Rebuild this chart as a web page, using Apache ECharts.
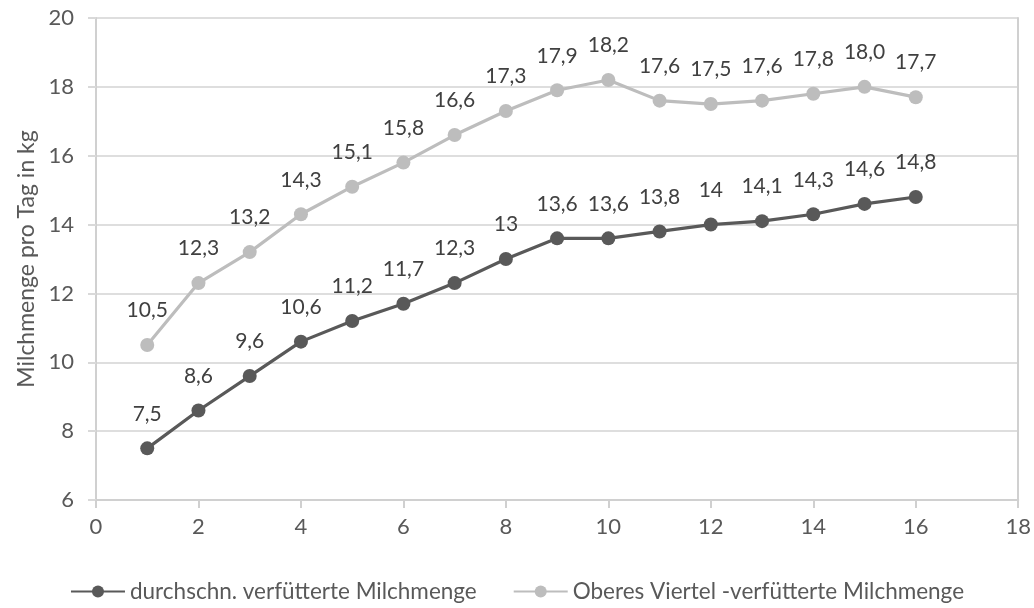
<!DOCTYPE html>
<html>
<head>
<meta charset="utf-8">
<script src="https://cdn.jsdelivr.net/npm/echarts@6/dist/echarts.min.js"></script>
<style>
  html, body { margin: 0; padding: 0; background: #fff; }
  #chart { width: 1034px; height: 608px; }
</style>
</head>
<body>
<div id="chart"></div>
<script>
// Laktationswochen (x) und Milchmengen je Gruppe
const weeks = [1, 2, 3, 4, 5, 6, 7, 8, 9, 10, 11, 12, 13, 14, 15, 16];
const avgMilk = [7.5, 8.6, 9.6, 10.6, 11.2, 11.7, 12.3, 13, 13.6, 13.6, 13.8, 14, 14.1, 14.3, 14.6, 14.8];
const topQuarterMilk = [10.5, 12.3, 13.2, 14.3, 15.1, 15.8, 16.6, 17.3, 17.9, 18.2, 17.6, 17.5, 17.6, 17.8, 18.0, 17.7];
const seriesNames = ['durchschn. verfütterte Milchmenge', 'Oberes Viertel -verfütterte Milchmenge'];
const yTitle = 'Milchmenge pro Tag in kg';

const FONT = 'Lato, "Open Sans", sans-serif';
const TEXT = '#595959';

const pairs = vals => weeks.map((w, i) => [w, vals[i]]);
const fmtGeneral = v => String(v).replace('.', ',');
const fmtOneDec = v => v.toFixed(1).replace('.', ',');

function lineSeries(name, vals, color, fmt) {
  return {
    name, type: 'line', data: pairs(vals),
    symbol: 'circle', symbolSize: 14,
    lineStyle: { color, width: 3.2 },
    itemStyle: { color },
    label: {
      show: true, position: 'top', distance: 17,
      color: '#404040', fontFamily: FONT, fontSize: 21,
      formatter: p => fmt(p.value[1])
    },
    z: 3
  };
}

const chart = echarts.init(document.getElementById('chart'));
chart.setOption({
  animation: false,
  grid: { left: 96, right: 14, top: 18, bottom: 108, containLabel: false },
  legend: {
    left: 'center', top: 580, padding: 0,
    itemWidth: 54, itemHeight: 15, itemGap: 36,
    textStyle: { color: TEXT, fontFamily: FONT, fontSize: 22.5 },
    data: seriesNames
  },
  xAxis: {
    type: 'value', min: 0, max: 18, interval: 2,
    axisLine: { show: true, lineStyle: { color: '#d0d0d0', width: 2 } },
    axisTick: { show: true, length: 8, lineStyle: { color: '#d0d0d0', width: 2 } },
    axisLabel: { color: TEXT, fontFamily: FONT, fontSize: 22, margin: 16 },
    splitLine: { show: false }
  },
  yAxis: [{
    type: 'value', min: 6, max: 20, interval: 2,
    name: yTitle, nameLocation: 'middle', nameGap: 56, nameRotate: 90,
    nameTextStyle: { color: TEXT, fontFamily: FONT, fontSize: 23 },
    axisLine: { show: true, lineStyle: { color: '#d0d0d0', width: 2 } },
    axisTick: { show: true, length: 8, lineStyle: { color: '#d9d9d9', width: 2 } },
    axisLabel: { color: TEXT, fontFamily: FONT, fontSize: 22, margin: 22 },
    splitLine: { show: true, lineStyle: { color: '#dedede', width: 2 } }
  }, {
    type: 'value', min: 6, max: 20, interval: 2, position: 'right',
    axisLine: { show: true, lineStyle: { color: '#d0d0d0', width: 2 } },
    axisTick: { show: false }, axisLabel: { show: false }, splitLine: { show: false }
  }],
  series: [
    lineSeries(seriesNames[0], avgMilk, '#595959', fmtGeneral),
    lineSeries(seriesNames[1], topQuarterMilk, '#bdbdbd', fmtOneDec)
  ]
});
</script>
</body>
</html>
